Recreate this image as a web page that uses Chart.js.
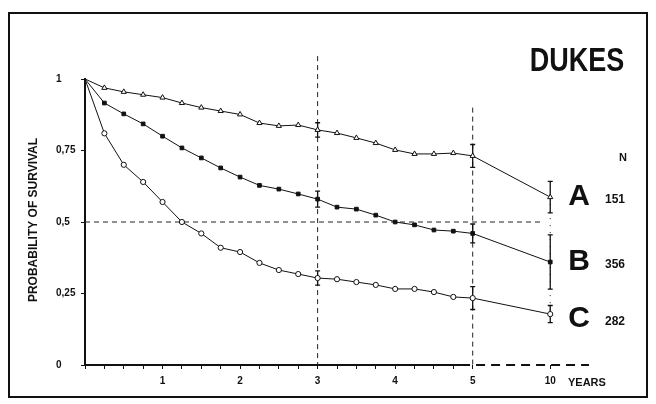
<!DOCTYPE html>
<html><head><meta charset="utf-8">
<script src="https://cdn.jsdelivr.net/npm/chart.js@4"></script>
<style>
html,body{margin:0;padding:0;background:#fff;}
#wrap{position:relative;width:656px;height:404px;}
#frame{position:absolute;left:8px;top:12px;width:640px;height:386px;border:2px solid #111;box-sizing:border-box;pointer-events:none;}
canvas{position:absolute;left:0;top:0;}
</style></head><body>
<div id="wrap"><canvas id="c" width="656" height="404"></canvas><div id="frame"></div></div>
<script>
// ---- data ----
const times = [0,0.25,0.5,0.75,1,1.25,1.5,1.75,2,2.25,2.5,2.75,3,3.25,3.5,3.75,4,4.25,4.5,4.75,5,10];
const survA = [1,0.969,0.955,0.945,0.935,0.916,0.90,0.888,0.876,0.846,0.836,0.839,0.822,0.811,0.794,0.776,0.752,0.738,0.738,0.741,0.731,0.587];
const survB = [1,0.916,0.878,0.843,0.80,0.759,0.724,0.689,0.657,0.628,0.615,0.598,0.58,0.552,0.545,0.524,0.50,0.49,0.472,0.468,0.46,0.36];
const survC = [1,0.81,0.70,0.64,0.57,0.50,0.46,0.41,0.395,0.357,0.332,0.318,0.304,0.30,0.29,0.28,0.266,0.266,0.255,0.238,0.234,0.178];
const errTimes = [3,5,10];
const errA = [0.025,0.04,0.055];
const errB = [0.028,0.033,0.095];
const errC = [0.025,0.04,0.03];
const groups = ['A','B','C'];
const counts = ['151','356','282'];
const xTickLabels = {1:'1',2:'2',3:'3',4:'4',5:'5',10:'10'};
const yTickValues = [0,0.25,0.5,0.75,1];
const refLinesX = [3,5];
const refLinesXTop = [1.08,0.9];
const refLineY = 0.5;
const refLineYEnd = 9.5;
const title = 'DUKES';
const yTitle = 'PROBABILITY OF SURVIVAL';
const xUnit = 'YEARS';

// broken time axis: 0..5 years linear, then 10 years one unit further
function pos(t){ return t <= 5 ? t : 5 + (t - 5) / 5; }
function labelFor(p){ for (const k in xTickLabels){ if (Math.abs(pos(+k) - p) < 1e-6) return xTickLabels[k]; } return ''; }

const FONT = '"Liberation Sans", Arial, sans-serif';
const series = [survA, survB, survC];
const errs = [errA, errB, errC];

const mk = (arr) => times.map((t,i)=>({x:pos(t), y:arr[i]}));

const extras = {
  id:'extras',
  beforeDatasetsDraw(chart){
    const {ctx, scales:{x,y}} = chart;
    ctx.save();
    ctx.strokeStyle = '#222'; ctx.lineWidth = 1;
    ctx.setLineDash([5,4]);
    refLinesX.forEach((v,i)=>{
      ctx.beginPath();
      ctx.moveTo(x.getPixelForValue(pos(v)), y.getPixelForValue(refLinesXTop[i]));
      ctx.lineTo(x.getPixelForValue(pos(v)), y.getPixelForValue(0));
      ctx.stroke();
    });
    ctx.beginPath();
    ctx.moveTo(x.getPixelForValue(0), y.getPixelForValue(refLineY));
    ctx.lineTo(x.getPixelForValue(pos(refLineYEnd)), y.getPixelForValue(refLineY));
    ctx.stroke();
    // dotted at 10 years
    ctx.setLineDash([1,6]);
    ctx.beginPath();
    ctx.moveTo(x.getPixelForValue(pos(10)), y.getPixelForValue(survA[survA.length-1]));
    ctx.lineTo(x.getPixelForValue(pos(10)), y.getPixelForValue(survC[survC.length-1]));
    ctx.stroke();
    ctx.setLineDash([]);
    // x axis: solid then dashed
    ctx.lineWidth = 2; ctx.strokeStyle = '#111';
    const y0 = y.getPixelForValue(0);
    ctx.beginPath();
    ctx.moveTo(x.getPixelForValue(0), y0);
    ctx.lineTo(x.getPixelForValue(4.85), y0);
    ctx.stroke();
    ctx.setLineDash([9,6]);
    ctx.beginPath();
    ctx.moveTo(x.getPixelForValue(4.85), y0);
    ctx.lineTo(x.getPixelForValue(6.5), y0);
    ctx.stroke();
    ctx.setLineDash([]);
    // error bars
    ctx.lineWidth = 1.3; ctx.strokeStyle = '#111';
    errs.forEach((e,si)=>{
      errTimes.forEach((t,j)=>{
        const idx = times.indexOf(t);
        const v = series[si][idx];
        const px = x.getPixelForValue(pos(t));
        const top = y.getPixelForValue(v + e[j]);
        const bot = y.getPixelForValue(v - e[j]);
        ctx.beginPath();
        ctx.moveTo(px, top); ctx.lineTo(px, bot);
        ctx.moveTo(px-2.5, top); ctx.lineTo(px+2.5, top);
        ctx.moveTo(px-2.5, bot); ctx.lineTo(px+2.5, bot);
        ctx.stroke();
      });
    });
    ctx.restore();
  },
  afterDraw(chart){
    const {ctx, scales:{x,y}} = chart;
    ctx.save();
    ctx.fillStyle = '#111';
    ctx.textBaseline = 'middle';
    ctx.textAlign = 'center';
    ctx.save();
    ctx.translate(577, 62);
    ctx.scale(1, 1.2);
    ctx.font = 'bold 27px ' + FONT;
    ctx.fillText(title, 0, 0);
    ctx.restore();
    // y title
    ctx.save();
    ctx.translate(34, 220);
    ctx.rotate(-Math.PI/2);
    ctx.font = 'bold 12px ' + FONT;
    ctx.fillText(yTitle, 0, 0);
    ctx.restore();
    // N
    ctx.font = 'bold 11px ' + FONT;
    ctx.fillText('N', 623, 158);
    // group labels
    series.forEach((s,i)=>{
      const py = y.getPixelForValue(s[s.length-1]) + (i===2 ? 5 : 0);
      ctx.textAlign = 'center';
      ctx.font = 'bold 30px ' + FONT;
      ctx.fillText(groups[i], 579, py);
      ctx.textAlign = 'left';
      ctx.font = 'bold 12px ' + FONT;
      ctx.fillText(counts[i], 605, py + 3);
    });
    // YEARS
    ctx.textAlign = 'left';
    ctx.font = 'bold 11px ' + FONT;
    ctx.fillText(xUnit, 568, 383);
    ctx.restore();
  }
};

const ds = (arr, style, bg, radius) => ({
  data: mk(arr),
  borderColor:'#111', borderWidth:1,
  pointStyle: style,
  pointBackgroundColor: bg,
  pointBorderColor:'#111', pointBorderWidth:1,
  pointRadius: arr.map((v,i)=> i===0 ? 0 : radius),
  tension:0, clip:false
});

new Chart(document.getElementById('c'), {
  type:'line',
  data:{ datasets:[
    ds(survA,'triangle','#fff',3),
    ds(survB,'rect','#111',2.6),
    ds(survC,'circle','#fff',2.6)
  ]},
  options:{
    responsive:false, animation:false,
    layout:{ padding:{ left:56, top:79, right:67, bottom:0 } },
    plugins:{ legend:{display:false}, tooltip:{enabled:false} },
    scales:{
      x:{
        type:'linear', min:0, max:6.5,
        afterBuildTicks: (s)=>{ s.ticks = times.map(t=>({value:pos(t)})); },
        afterFit: (s)=>{ s.height = 39; },
        border:{display:false},
        grid:{ drawOnChartArea:false, drawTicks:true, tickLength:4, color:'#111', lineWidth:1 },
        ticks:{ autoSkip:false, maxRotation:0, padding:6, color:'#111',
          font:{ family:FONT, weight:'bold', size:10 },
          callback:(v)=>labelFor(v) }
      },
      y:{
        type:'linear', min:0, max:1,
        afterBuildTicks: (s)=>{ s.ticks = yTickValues.map(v=>({value:v})); },
        afterFit: (s)=>{ s.width = 29; },
        border:{ display:true, color:'#111', width:2 },
        grid:{ drawOnChartArea:false, drawTicks:true, tickLength:4, color:'#111', lineWidth:1 },
        ticks:{ crossAlign:'far', padding:4, color:'#111',
          font:{ family:FONT, weight:'bold', size:10 },
          callback:(v)=>String(v).replace('.',',') }
      }
    }
  },
  plugins:[extras]
});
</script>
</body></html>
